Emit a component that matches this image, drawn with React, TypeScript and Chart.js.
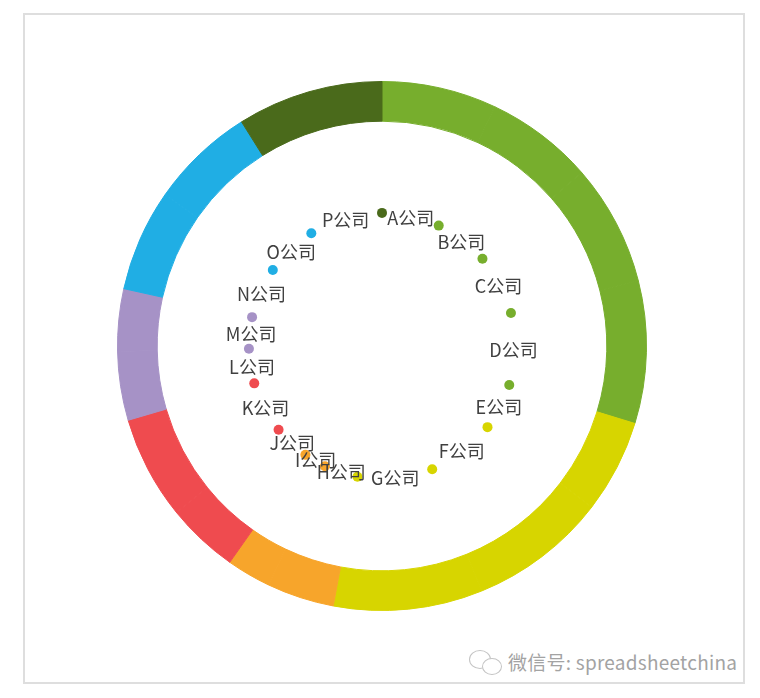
import { useEffect, useRef } from 'react';
import { Chart, ArcElement, DoughnutController } from 'chart.js';
import type { Plugin } from 'chart.js';

Chart.register(DoughnutController, ArcElement);

// 各公司占比（%），按 A→P 顺时针排列
const companies = ['A公司', 'B公司', 'C公司', 'D公司', 'E公司', 'F公司', 'G公司', 'H公司',
  'I公司', 'J公司', 'K公司', 'L公司', 'M公司', 'N公司', 'O公司', 'P公司'];
const shares = [7.0, 6.6, 7.4, 8.7, 5.7, 8.4, 9.1, 4.1, 2.7, 4.4, 6.3, 4.2, 3.8, 6.2, 6.4, 8.9];
// 公司所属分组（决定颜色）
const groupOf = [0, 0, 0, 0, 1, 1, 1, 2, 2, 3, 3, 4, 4, 5, 5, 6];

const palette = ['#77ae2d', '#d7d500', '#f7a52b', '#ef4b4f', '#a692c6', '#20aee4', '#4a6a1b'];

const ringMarkers: Plugin<'doughnut'> = {
  id: 'ringMarkers',
  afterDatasetsDraw(chart) {
    const ctx = chart.ctx;
    const arcs = chart.getDatasetMeta(0).data as ArcElement[];
    ctx.save();
    // 分界点：每个公司扇区的结束角
    arcs.forEach((arc, i) => {
      const { x, y, endAngle, innerRadius } = arc.getProps(['x', 'y', 'endAngle', 'innerRadius'], true);
      const r = innerRadius * 0.592;
      ctx.beginPath();
      ctx.arc(x + r * Math.cos(endAngle), y + r * Math.sin(endAngle), 5, 0, Math.PI * 2);
      ctx.fillStyle = palette[groupOf[i]];
      ctx.fill();
    });
    // 标签：扇区中点
    ctx.font = '18px "Noto Sans CJK SC", sans-serif';
    ctx.textAlign = 'center';
    ctx.textBaseline = 'middle';
    ctx.fillStyle = '#404040';
    arcs.forEach((arc, i) => {
      const { x, y, startAngle, endAngle, innerRadius } =
        arc.getProps(['x', 'y', 'startAngle', 'endAngle', 'innerRadius'], true);
      const r = innerRadius * 0.585;
      const mid = (startAngle + endAngle) / 2;
      ctx.fillText(companies[i], x + r * Math.cos(mid), y + r * Math.sin(mid) + 1);
    });
    ctx.restore();
  },
};

function RingChart() {
  const canvasRef = useRef<HTMLCanvasElement>(null);
  const chartRef = useRef<Chart<'doughnut'> | null>(null);

  useEffect(() => {
    if (!canvasRef.current) return;
    chartRef.current?.destroy();

    const colors = groupOf.map((g) => palette[g]);

    chartRef.current = new Chart(canvasRef.current, {
      type: 'doughnut',
      data: {
        labels: companies,
        datasets: [{
          data: shares,
          backgroundColor: colors,
          borderColor: colors,
          borderWidth: 1,
        }],
      },
      options: {
        responsive: false,
        animation: false,
        cutout: '85%',
        layout: { padding: 0 },
        plugins: {
          legend: { display: false },
          tooltip: { enabled: false },
        },
        events: [],
      },
      plugins: [ringMarkers],
    });

    return () => {
      chartRef.current?.destroy();
      chartRef.current = null;
    };
  }, []);

  return <canvas ref={canvasRef} width={530} height={530} style={{ position: 'absolute', left: 117, top: 81 }} />;
}

export default function App() {
  return (
    <div style={{ position: 'absolute', left: 0, top: 0, width: 760, height: 698, background: '#fff' }}>
      <div style={{
        position: 'absolute', left: 23, top: 13, width: 722, height: 671,
        boxSizing: 'border-box', border: '2px solid #dedede',
      }} />
      <RingChart />
      {/* 水印 */}
      <div style={{
        position: 'absolute', left: 469, top: 650, width: 20, height: 17,
        border: '1px solid #c4c4c4', borderRadius: '50%', background: '#fff',
      }} />
      <div style={{
        position: 'absolute', left: 482, top: 658, width: 18, height: 15,
        border: '1px solid #c4c4c4', borderRadius: '50%', background: '#fff',
      }} />
      <div style={{
        position: 'absolute', left: 508, top: 650, fontSize: 19, lineHeight: '24px', letterSpacing: 0.25,
        color: '#a3a3a3', fontFamily: '"Noto Sans CJK SC", "Noto Sans", sans-serif', whiteSpace: 'nowrap',
      }}>
        微信号: spreadsheetchina
      </div>
    </div>
  );
}
